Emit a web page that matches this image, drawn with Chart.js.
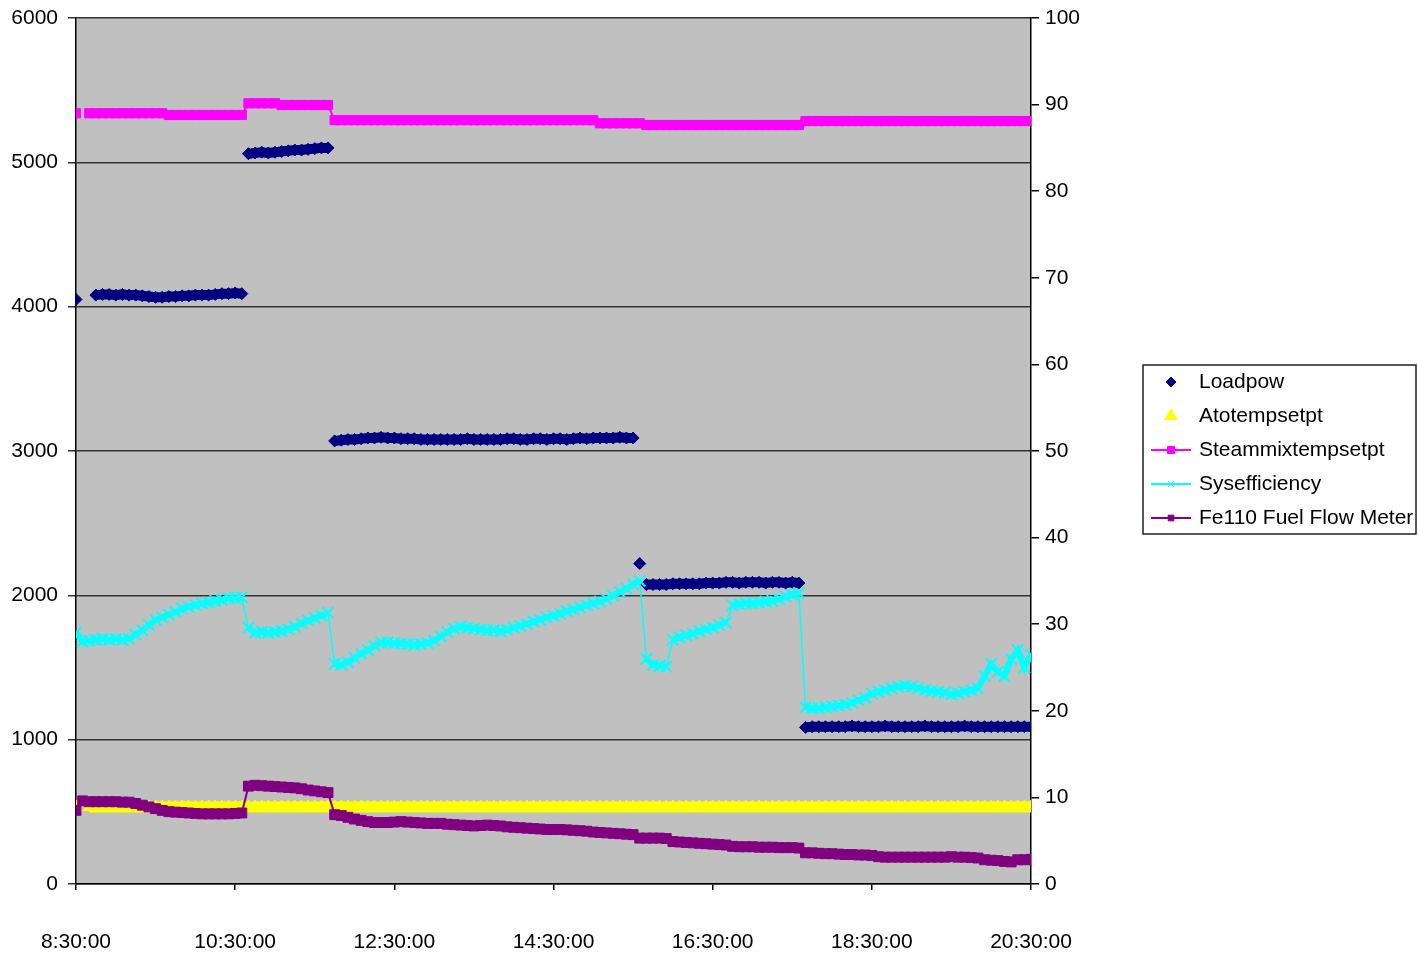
<!DOCTYPE html>
<html>
<head>
<meta charset="utf-8">
<title>Loadpow / efficiency</title>
<script src="https://cdn.jsdelivr.net/npm/chart.js@4.4.1/dist/chart.umd.min.js"></script>
<style>
  html, body { margin: 0; padding: 0; background: #fff; }
  canvas { display: block; }
</style>
</head>
<body>
<canvas id="chart" width="1418" height="955"></canvas>
<script>
// one reading every 5 minutes, starting 8:30:00
const sampleMinutes = 5;
const xTickLabels = ['8:30:00', '10:30:00', '12:30:00', '14:30:00', '16:30:00', '18:30:00', '20:30:00'];

// left axis
const loadpow = [
  4050, null, null, 4080, 4085, 4085, 4080, 4085, 4080, 4080,
  4075, 4070, 4065, 4065, 4070, 4070, 4075, 4075, 4080, 4080,
  4080, 4085, 4090, 4090, 4095, 4090, 5060, 5065, 5070, 5065,
  5070, 5075, 5080, 5085, 5085, 5090, 5095, 5100, 5100, 3070,
  3075, 3080, 3080, 3085, 3090, 3090, 3095, 3090, 3090, 3085,
  3085, 3085, 3080, 3080, 3080, 3080, 3080, 3080, 3080, 3085,
  3080, 3080, 3080, 3080, 3080, 3085, 3085, 3080, 3080, 3085,
  3085, 3080, 3085, 3085, 3080, 3085, 3090, 3085, 3090, 3090,
  3090, 3090, 3095, 3090, 3090, 2220, 2075, 2075, 2075, 2075,
  2080, 2080, 2080, 2080, 2080, 2085, 2085, 2085, 2090, 2090,
  2085, 2090, 2090, 2090, 2085, 2090, 2090, 2085, 2090, 2085,
  1085, 1090, 1090, 1090, 1090, 1090, 1090, 1095, 1090, 1090,
  1090, 1090, 1095, 1090, 1090, 1090, 1090, 1090, 1095, 1090,
  1090, 1090, 1090, 1090, 1095, 1090, 1090, 1090, 1090, 1090,
  1090, 1090, 1090, 1090, 1090
];

// right axis
const atotempsetpt = [
  8.9, null, 8.9, 8.9, 8.9, 8.9, 8.9, 8.9, 8.9, 8.9,
  8.9, 8.9, 8.9, 8.9, 8.9, 8.9, 8.9, 8.9, 8.9, 8.9,
  8.9, 8.9, 8.9, 8.9, 8.9, 8.9, 8.9, 8.9, 8.9, 8.9,
  8.9, 8.9, 8.9, 8.9, 8.9, 8.9, 8.9, 8.9, 8.9, 8.9,
  8.9, 8.9, 8.9, 8.9, 8.9, 8.9, 8.9, 8.9, 8.9, 8.9,
  8.9, 8.9, 8.9, 8.9, 8.9, 8.9, 8.9, 8.9, 8.9, 8.9,
  8.9, 8.9, 8.9, 8.9, 8.9, 8.9, 8.9, 8.9, 8.9, 8.9,
  8.9, 8.9, 8.9, 8.9, 8.9, 8.9, 8.9, 8.9, 8.9, 8.9,
  8.9, 8.9, 8.9, 8.9, 8.9, 8.9, 8.9, 8.9, 8.9, 8.9,
  8.9, 8.9, 8.9, 8.9, 8.9, 8.9, 8.9, 8.9, 8.9, 8.9,
  8.9, 8.9, 8.9, 8.9, 8.9, 8.9, 8.9, 8.9, 8.9, 8.9,
  8.9, 8.9, 8.9, 8.9, 8.9, 8.9, 8.9, 8.9, 8.9, 8.9,
  8.9, 8.9, 8.9, 8.9, 8.9, 8.9, 8.9, 8.9, 8.9, 8.9,
  8.9, 8.9, 8.9, 8.9, 8.9, 8.9, 8.9, 8.9, 8.9, 8.9,
  8.9, 8.9, 8.9, 8.9, 8.9
];

const steammixtempsetpt = [
  89.0, null, 89.0, 89.0, 89.0, 89.0, 89.0, 89.0, 89.0, 89.0,
  89.0, 89.0, 89.0, 89.0, 88.8, 88.8, 88.8, 88.8, 88.8, 88.8,
  88.8, 88.8, 88.8, 88.8, 88.8, 88.8, 90.15, 90.15, 90.15, 90.15,
  90.15, 89.95, 89.95, 89.95, 89.95, 89.95, 89.95, 89.95, 89.95, 88.2,
  88.2, 88.2, 88.2, 88.2, 88.2, 88.2, 88.2, 88.2, 88.2, 88.2,
  88.2, 88.2, 88.2, 88.2, 88.2, 88.2, 88.2, 88.2, 88.2, 88.2,
  88.2, 88.2, 88.2, 88.2, 88.2, 88.2, 88.2, 88.2, 88.2, 88.2,
  88.2, 88.2, 88.2, 88.2, 88.2, 88.2, 88.2, 88.2, 88.2, 87.84,
  87.84, 87.84, 87.84, 87.84, 87.84, 87.84, 87.64, 87.64, 87.64, 87.64,
  87.64, 87.64, 87.64, 87.64, 87.64, 87.64, 87.64, 87.64, 87.64, 87.64,
  87.64, 87.64, 87.64, 87.64, 87.64, 87.64, 87.64, 87.64, 87.64, 87.64,
  88.1, 88.1, 88.1, 88.1, 88.1, 88.1, 88.1, 88.1, 88.1, 88.1,
  88.1, 88.1, 88.1, 88.1, 88.1, 88.1, 88.1, 88.1, 88.1, 88.1,
  88.1, 88.1, 88.1, 88.1, 88.1, 88.1, 88.1, 88.1, 88.1, 88.1,
  88.1, 88.1, 88.1, 88.1, 88.1
];

const sysefficiency = [
  29.0, 28.0, 28.1, 28.2, 28.3, 28.2, 28.3, 28.2, 28.3, 28.8,
  29.3, 29.9, 30.5, 30.8, 31.1, 31.4, 31.8, 32.0, 32.2, 32.4,
  32.5, 32.7, 32.8, 33.0, 33.0, 33.1, 29.6, 29.0, 29.1, 29.0,
  29.1, 29.2, 29.4, 29.7, 30.1, 30.4, 30.7, 31.0, 31.3, 25.4,
  25.3, 25.6, 26.1, 26.6, 27.0, 27.5, 27.9, 27.9, 27.8, 27.8,
  27.7, 27.6, 27.7, 27.8, 28.1, 28.6, 29.1, 29.5, 29.7, 29.6,
  29.5, 29.4, 29.3, 29.3, 29.2, 29.35, 29.6, 29.8, 30.0, 30.3,
  30.5, 30.8, 31.0, 31.2, 31.5, 31.7, 31.9, 32.2, 32.4, 32.6,
  32.9, 33.3, 33.7, 34.1, 34.6, 35.0, 26.0, 25.3, 25.2, 25.1,
  28.2, 28.5, 28.7, 28.9, 29.2, 29.4, 29.6, 29.9, 30.2, 32.2,
  32.3, 32.4, 32.4, 32.5, 32.6, 32.7, 32.9, 33.2, 33.4, 33.6,
  20.4, 20.3, 20.3, 20.4, 20.5, 20.6, 20.7, 20.9, 21.2, 21.5,
  22.0, 22.2, 22.4, 22.6, 22.8, 22.9, 22.8, 22.6, 22.4, 22.3,
  22.2, 22.1, 21.9, 22.0, 22.2, 22.4, 22.6, 24.0, 25.4, 24.5,
  24.0, 26.0, 27.0, 25.0, 26.5
];

const fe110FuelFlow = [
  8.5, 9.6, 9.5, 9.5, 9.5, 9.5, 9.5, 9.45, 9.45, 9.3,
  9.1, 8.9, 8.7, 8.5, 8.35, 8.3, 8.25, 8.2, 8.15, 8.1,
  8.1, 8.1, 8.1, 8.1, 8.15, 8.2, 11.3, 11.4, 11.35, 11.3,
  11.25, 11.2, 11.15, 11.1, 11.0, 10.85, 10.75, 10.65, 10.55, 8.0,
  7.9, 7.7, 7.5, 7.35, 7.2, 7.1, 7.1, 7.1, 7.15, 7.2,
  7.15, 7.1, 7.05, 7.0, 7.0, 7.0, 6.9, 6.85, 6.8, 6.75,
  6.7, 6.75, 6.8, 6.75, 6.7, 6.6, 6.55, 6.5, 6.45, 6.4,
  6.35, 6.3, 6.3, 6.3, 6.25, 6.2, 6.15, 6.1, 6.0, 5.95,
  5.9, 5.85, 5.8, 5.75, 5.7, 5.3, 5.3, 5.3, 5.3, 5.25,
  4.9, 4.85, 4.8, 4.75, 4.7, 4.65, 4.6, 4.55, 4.5, 4.35,
  4.3, 4.3, 4.3, 4.25, 4.25, 4.25, 4.2, 4.2, 4.2, 4.15,
  3.6, 3.6, 3.55, 3.5, 3.5, 3.45, 3.4, 3.4, 3.35, 3.35,
  3.3, 3.15, 3.1, 3.1, 3.1, 3.1, 3.1, 3.1, 3.1, 3.1,
  3.1, 3.1, 3.15, 3.1, 3.1, 3.05, 3.0, 2.8, 2.75, 2.7,
  2.6, 2.55, 2.8, 2.8, 2.85
];

const fontFamily = '"Liberation Sans", Arial, sans-serif';
const tickFont = { family: fontFamily, size: 21 };

// turn a list of readings into {x, y} points on the minute axis
function toPoints(values) {
    return values.map((v, i) => ({ x: i * sampleMinutes, y: v }));
}

// thick band for the dense readings, thin stroke where the value jumps
function bandSegment(jump, thick, thin) {
    return {
        borderWidth: (c) => Math.abs(c.p1.parsed.y - c.p0.parsed.y) > jump ? thin : thick
    };
}

// grey plot area like the spreadsheet default
const plotBackground = {
    id: 'plotBackground',
    beforeDraw(chart) {
        const a = chart.chartArea;
        const ctx = chart.ctx;
        ctx.save();
        ctx.fillStyle = '#c0c0c0';
        ctx.fillRect(a.left, a.top, a.right - a.left, a.bottom - a.top);
        ctx.restore();
    }
};

// legend box on the right, line + marker samples
const legendSizes = [5, 7, 5, 4, 4];
const legendHasLine = [false, false, true, true, true];
const boxLegend = {
    id: 'boxLegend',
    afterDraw(chart) {
        const ctx = chart.ctx;
        const bx = 1143, by = 365, bw = 273, bh = 169;
        ctx.save();
        ctx.fillStyle = '#fff';
        ctx.fillRect(bx, by, bw, bh);
        ctx.strokeStyle = '#222';
        ctx.lineWidth = 1.5;
        ctx.strokeRect(bx, by, bw, bh);

        chart.data.datasets.forEach((ds, i) => {
            const y = 382 + i * 34;
            if (legendHasLine[i]) {
                ctx.strokeStyle = ds.borderColor;
                ctx.lineWidth = 2;
                ctx.beginPath();
                ctx.moveTo(1151, y);
                ctx.lineTo(1191, y);
                ctx.stroke();
            }
            ctx.fillStyle = ds.pointBackgroundColor;
            ctx.strokeStyle = ds.pointBorderColor;
            ctx.lineWidth = 1;
            Chart.helpers.drawPoint(ctx, {
                pointStyle: ds.pointStyle,
                radius: legendSizes[i],
                rotation: 0,
                borderWidth: 1
            }, 1171, y);

            ctx.fillStyle = '#000';
            ctx.font = '21px ' + fontFamily;
            ctx.textAlign = 'left';
            ctx.textBaseline = 'middle';
            ctx.fillText(ds.label, 1199, y);
        });
        ctx.restore();
    }
};

const chart = new Chart(document.getElementById('chart'), {
    type: 'line',
    data: {
        datasets: [
            {
                label: 'Loadpow',
                data: toPoints(loadpow),
                yAxisID: 'y',
                borderColor: '#000080',
                // markers only in the source: join neighbours into a band, never across a jump
                segment: {
                    borderColor: (c) => Math.abs(c.p1.parsed.y - c.p0.parsed.y) > 50 ? 'rgba(0,0,0,0)' : '#000080'
                },
                borderWidth: 10,
                pointStyle: 'rectRot',
                pointRadius: 6,
                pointBorderWidth: 1,
                pointBackgroundColor: '#000080',
                pointBorderColor: '#000080',
                order: 5
            },
            {
                label: 'Atotempsetpt',
                data: toPoints(atotempsetpt),
                yAxisID: 'y1',
                borderColor: '#ffff00',
                borderWidth: 11,
                pointStyle: 'triangle',
                pointRadius: 7,
                pointBorderWidth: 1,
                pointBackgroundColor: '#ffff00',
                pointBorderColor: '#ffff00',
                order: 4
            },
            {
                label: 'Steammixtempsetpt',
                data: toPoints(steammixtempsetpt),
                yAxisID: 'y1',
                borderColor: '#ff00ff',
                borderWidth: 8,
                segment: bandSegment(0.5, 8, 2),
                pointStyle: 'rect',
                pointRadius: 6.5,
                pointBorderWidth: 1,
                pointBackgroundColor: '#ff00ff',
                pointBorderColor: '#ff00ff',
                spanGaps: false,
                order: 3
            },
            {
                label: 'Sysefficiency',
                data: toPoints(sysefficiency),
                yAxisID: 'y1',
                borderColor: '#00ffff',
                borderWidth: 6,
                segment: bandSegment(2, 6, 1.5),
                pointStyle: 'crossRot',
                pointRadius: 8,
                pointBorderWidth: 2,
                pointBackgroundColor: '#00ffff',
                pointBorderColor: '#00ffff',
                order: 2
            },
            {
                label: 'Fe110 Fuel Flow Meter',
                data: toPoints(fe110FuelFlow),
                yAxisID: 'y1',
                borderColor: '#800080',
                borderWidth: 8,
                segment: bandSegment(1, 8, 2),
                pointStyle: 'rect',
                pointRadius: 7,
                pointBorderWidth: 1,
                pointBackgroundColor: '#800080',
                pointBorderColor: '#800080',
                order: 1
            }
        ]
    },
    options: {
        responsive: false,
        animation: false,
        layout: { padding: { top: 18, right: 327, left: 0, bottom: 0 } },
        plugins: {
            legend: { display: false },
            tooltip: { enabled: false }
        },
        elements: { line: { tension: 0 } },
        scales: {
            x: {
                type: 'linear',
                min: 0,
                max: 720,
                afterFit: (s) => { s.height = 71; s.paddingLeft = 0; s.paddingRight = 0; },
                afterBuildTicks: (s) => {
                    s.ticks = xTickLabels.map((_, i) => ({ value: i * 120 }));
                },
                ticks: {
                    font: tickFont,
                    color: '#000',
                    padding: 40,
                    maxRotation: 0,
                    autoSkip: false,
                    callback: (v) => xTickLabels[Math.round(v / 120)]
                },
                grid: { drawOnChartArea: false, drawTicks: true, tickLength: 6, color: '#000', lineWidth: 1.5 },
                border: { color: '#000', width: 1.5 }
            },
            y: {
                position: 'left',
                min: 0,
                max: 6000,
                afterFit: (s) => { s.width = 76; s.paddingTop = 0; s.paddingBottom = 0; },
                ticks: { stepSize: 1000, font: tickFont, color: '#000', padding: 10, callback: (v) => String(v) },
                grid: { color: '#333', lineWidth: 1.5, tickLength: 8 },
                border: { color: '#000', width: 1.5 }
            },
            y1: {
                position: 'right',
                min: 0,
                max: 100,
                afterFit: (s) => { s.width = 60; s.paddingTop = 0; s.paddingBottom = 0; },
                ticks: { stepSize: 10, font: tickFont, color: '#000', padding: 6 },
                grid: { drawOnChartArea: false, color: '#000', lineWidth: 1.5, tickLength: 8 },
                border: { color: '#000', width: 1.5 }
            }
        }
    },
    plugins: [plotBackground, boxLegend]
});
</script>
</body>
</html>
